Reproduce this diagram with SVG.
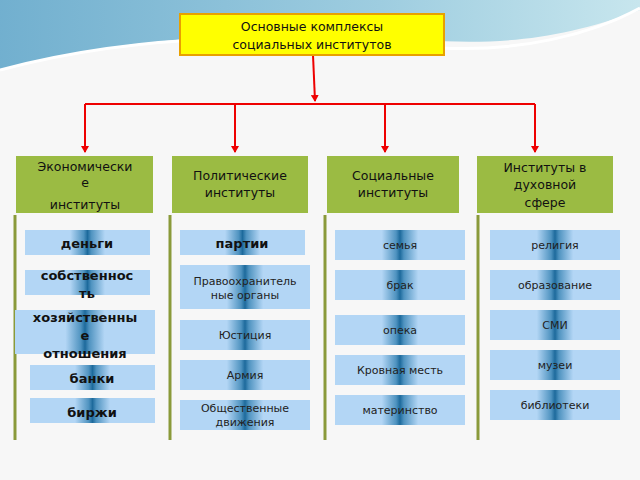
<svg xmlns="http://www.w3.org/2000/svg" width="640" height="480" viewBox="0 0 640 480">
<defs>
<linearGradient id="bg" x1="0" y1="0" x2="1" y2="0"><stop offset="0" stop-color="#5aa3c8"/><stop offset="0.6" stop-color="#8fc6dc"/><stop offset="1" stop-color="#bfe3ec"/></linearGradient>
<linearGradient id="bl" x1="0" y1="0" x2="1" y2="0">
<stop offset="0" stop-color="#b3d6f5"/><stop offset="0.36" stop-color="#b3d6f5"/><stop offset="0.47" stop-color="#4f93c0"/><stop offset="0.5" stop-color="#1d6a9c"/><stop offset="0.53" stop-color="#4f93c0"/><stop offset="0.64" stop-color="#b3d6f5"/><stop offset="1" stop-color="#b3d6f5"/></linearGradient>
<marker id="ar" markerWidth="8" markerHeight="8" refX="6" refY="4" orient="auto" markerUnits="userSpaceOnUse"><path d="M0,0 L7,4 L0,8 z" fill="#e00"/></marker>
<style>
.h{fill:#9bbb43}
.b{fill:url(#bl)}
.t{font-family:"DejaVu Sans",sans-serif;font-size:12.5px;fill:#111;text-anchor:middle}
.s{font-family:"DejaVu Sans",sans-serif;font-size:11px;fill:#222;text-anchor:middle}
.k{font-family:"DejaVu Sans",sans-serif;font-size:13px;font-weight:bold;fill:#111;text-anchor:middle}
.v{stroke:#8a9a3a;stroke-width:3}
.c{stroke:#e00;stroke-width:2;fill:none}
</style>
</defs>
<rect width="640" height="480" fill="#f7f7f7"/>
<path d="M0,0 H640 V10 C560,40 500,45 420,40 C300,32 150,30 0,70 Z" fill="url(#bg)" opacity="0.85"/>
<path d="M0,70 C150,30 300,34 440,48 C520,52 590,35 640,8" stroke="#fff" stroke-width="3" fill="none"/>
<g id="connectors">
<path class="c" d="M313,55 L315,101" marker-end="url(#ar)"/>
<path class="c" d="M85,104 H535"/>
<path class="c" d="M85,104 V152" marker-end="url(#ar)"/>
<path class="c" d="M235,104 V152" marker-end="url(#ar)"/>
<path class="c" d="M385,104 V152" marker-end="url(#ar)"/>
<path class="c" d="M535,104 V152" marker-end="url(#ar)"/>
<line class="v" x1="15" y1="215" x2="15" y2="440"/>
<line class="v" x1="170" y1="215" x2="170" y2="440"/>
<line class="v" x1="325" y1="215" x2="325" y2="440"/>
<line class="v" x1="478" y1="215" x2="478" y2="440"/>
</g>
<g id="root"><rect x="180" y="14" width="264" height="41" fill="#ffff00" stroke="#e8a000" stroke-width="2"/><text class="t" x="312" y="31">Основные комплексы</text><text class="t" x="312" y="49">социальных институтов</text></g>
<g id="h1"><rect class="h" x="16" y="156" width="137" height="57"/><text class="t" x="85" y="171">Экономически</text><text class="t" x="85" y="187">е</text><text class="t" x="85" y="209">институты</text></g>
<g id="h2"><rect class="h" x="172" y="156" width="136" height="57"/><text class="t" x="240" y="180">Политические</text><text class="t" x="240" y="197">институты</text></g>
<g id="h3"><rect class="h" x="327" y="156" width="132" height="57"/><text class="t" x="393" y="180">Социальные</text><text class="t" x="393" y="197">институты</text></g>
<g id="h4"><rect class="h" x="477" y="156" width="136" height="57"/><text class="t" x="545" y="172">Институты в</text><text class="t" x="545" y="189">духовной</text><text class="t" x="545" y="207">сфере</text></g>
<g id="e1"><rect class="b" x="25" y="230" width="125" height="25"/><text class="k" x="87" y="248">деньги</text></g>
<g id="e2"><rect class="b" x="25" y="270" width="125" height="25"/><text class="k" x="87" y="280">собственнос</text><text class="k" x="87" y="298">ть</text></g>
<g id="e3"><rect class="b" x="15" y="310" width="140" height="44"/><text class="k" x="85" y="322">хозяйственны</text><text class="k" x="85" y="340">е</text><text class="k" x="85" y="358">отношения</text></g>
<g id="e4"><rect class="b" x="30" y="365" width="125" height="25"/><text class="k" x="92" y="383">банки</text></g>
<g id="e5"><rect class="b" x="30" y="398" width="125" height="25"/><text class="k" x="92" y="417">биржи</text></g>
<g id="p1"><rect class="b" x="180" y="230" width="125" height="25"/><text class="k" x="242" y="248">партии</text></g>
<g id="p2"><rect class="b" x="180" y="265" width="130" height="44"/><text class="s" x="245" y="285">Правоохранитель</text><text class="s" x="245" y="299">ные органы</text></g>
<g id="p3"><rect class="b" x="180" y="320" width="130" height="30"/><text class="s" x="245" y="339">Юстиция</text></g>
<g id="p4"><rect class="b" x="180" y="360" width="130" height="30"/><text class="s" x="245" y="379">Армия</text></g>
<g id="p5"><rect class="b" x="180" y="400" width="130" height="30"/><text class="s" x="245" y="412">Общественные</text><text class="s" x="245" y="426">движения</text></g>
<g id="s1"><rect class="b" x="335" y="230" width="130" height="30"/><text class="s" x="400" y="249">семья</text></g>
<g id="s2"><rect class="b" x="335" y="270" width="130" height="30"/><text class="s" x="400" y="289">брак</text></g>
<g id="s3"><rect class="b" x="335" y="315" width="130" height="30"/><text class="s" x="400" y="334">опека</text></g>
<g id="s4"><rect class="b" x="335" y="355" width="130" height="30"/><text class="s" x="400" y="374">Кровная месть</text></g>
<g id="s5"><rect class="b" x="335" y="395" width="130" height="30"/><text class="s" x="400" y="414">материнство</text></g>
<g id="d1"><rect class="b" x="490" y="230" width="130" height="30"/><text class="s" x="555" y="249">религия</text></g>
<g id="d2"><rect class="b" x="490" y="270" width="130" height="30"/><text class="s" x="555" y="289">образование</text></g>
<g id="d3"><rect class="b" x="490" y="310" width="130" height="30"/><text class="s" x="555" y="329">СМИ</text></g>
<g id="d4"><rect class="b" x="490" y="350" width="130" height="30"/><text class="s" x="555" y="369">музеи</text></g>
<g id="d5"><rect class="b" x="490" y="390" width="130" height="30"/><text class="s" x="555" y="409">библиотеки</text></g>
</svg>
